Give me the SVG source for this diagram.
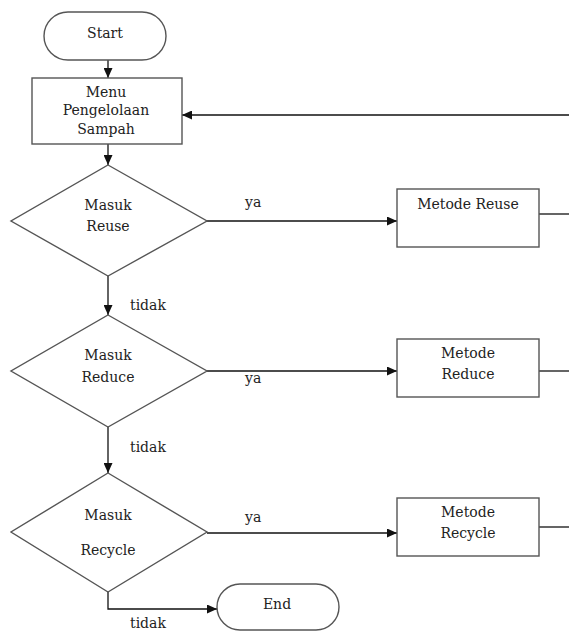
<svg xmlns="http://www.w3.org/2000/svg" width="569" height="632" viewBox="0 0 569 632">
<style>
.shape{fill:#fff;stroke:#555;stroke-width:1.4}
.t{font-family:"DejaVu Serif","Liberation Serif",serif;font-size:14px;fill:#222;text-anchor:middle}
.l{font-family:"DejaVu Serif","Liberation Serif",serif;font-size:14px;fill:#222}
.c{fill:none;stroke:#111;stroke-width:1.3}
</style>
<defs>
<marker id="ah" markerUnits="userSpaceOnUse" markerWidth="10" markerHeight="9" refX="10" refY="4.5" orient="auto">
<path d="M0,0 L10,4.5 L0,9 z" fill="#111"/>
</marker>
</defs>
<rect width="569" height="632" fill="#fff"/>
<g id="connectors">
<line class="c" x1="108" y1="60" x2="108" y2="78" marker-end="url(#ah)"/>
<line class="c" x1="108" y1="144" x2="108" y2="165" marker-end="url(#ah)"/>
<line class="c" x1="569" y1="115" x2="182" y2="115" marker-end="url(#ah)"/>
<line class="c" x1="207" y1="221" x2="397" y2="221" marker-end="url(#ah)"/>
<line class="c" x1="539" y1="214" x2="569" y2="214"/>
<line class="c" x1="108" y1="276" x2="108" y2="315" marker-end="url(#ah)"/>
<line class="c" x1="207" y1="371" x2="397" y2="371" marker-end="url(#ah)"/>
<line class="c" x1="539" y1="371" x2="569" y2="371"/>
<line class="c" x1="108" y1="427" x2="108" y2="473" marker-end="url(#ah)"/>
<line class="c" x1="207" y1="533" x2="397" y2="533" marker-end="url(#ah)"/>
<line class="c" x1="539" y1="527" x2="569" y2="527"/>
<polyline class="c" points="108,592 108,609 217,609" marker-end="url(#ah)"/>
<text class="l" x="245" y="207">ya</text>
<text class="l" x="245" y="383">ya</text>
<text class="l" x="245" y="522">ya</text>
<text class="l" x="130" y="310">tidak</text>
<text class="l" x="130" y="452">tidak</text>
<text class="l" x="130" y="628">tidak</text>
</g>
<g id="start">
<rect class="shape" x="44" y="12" width="122" height="48" rx="24"/>
<text class="t" x="105" y="38">Start</text>
</g>
<g id="menu">
<rect class="shape" x="32" y="78" width="150" height="66"/>
<text class="t" x="106" y="97">Menu</text>
<text class="t" x="106" y="115">Pengelolaan</text>
<text class="t" x="106" y="134">Sampah</text>
</g>
<g id="masuk-reuse">
<polygon class="shape" points="108,165 207,221 108,276 11,221"/>
<text class="t" x="108" y="210">Masuk</text>
<text class="t" x="108" y="231">Reuse</text>
</g>
<g id="metode-reuse">
<rect class="shape" x="397" y="189" width="142" height="58"/>
<text class="t" x="468" y="209">Metode Reuse</text>
</g>
<g id="masuk-reduce">
<polygon class="shape" points="108,315 207,371 108,427 11,371"/>
<text class="t" x="108" y="360">Masuk</text>
<text class="t" x="108" y="382">Reduce</text>
</g>
<g id="metode-reduce">
<rect class="shape" x="397" y="339" width="142" height="58"/>
<text class="t" x="468" y="358">Metode</text>
<text class="t" x="468" y="379">Reduce</text>
</g>
<g id="masuk-recycle">
<polygon class="shape" points="108,473 207,532 108,592 11,532"/>
<text class="t" x="108" y="520">Masuk</text>
<text class="t" x="108" y="555">Recycle</text>
</g>
<g id="metode-recycle">
<rect class="shape" x="397" y="498" width="142" height="58"/>
<text class="t" x="468" y="517">Metode</text>
<text class="t" x="468" y="538">Recycle</text>
</g>
<g id="end">
<rect class="shape" x="217" y="584" width="122" height="46" rx="23"/>
<text class="t" x="277" y="609">End</text>
</g>
</svg>
